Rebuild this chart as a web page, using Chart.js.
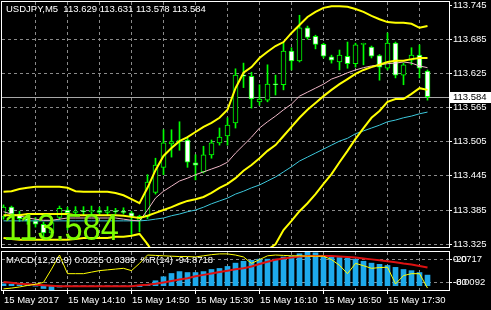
<!DOCTYPE html>
<html>
<head>
<meta charset="utf-8">
<script src="https://cdn.jsdelivr.net/npm/chart.js@4/dist/chart.umd.min.js"></script>
<style>
html, body { margin: 0; padding: 0; background: #000; }
#wrap { position: relative; width: 491px; height: 310px; background: #000; overflow: hidden; }
#main { position: absolute; left: 0; top: 0; }
#sub { position: absolute; left: 0; top: 250px; }
</style>
</head>
<body>
<div id="wrap">
  <canvas id="main" width="491" height="250" style="width:491px;height:250px"></canvas>
  <canvas id="sub" width="491" height="60" style="width:491px;height:60px"></canvas>
</div>
<script>
const symbol = 'USDJPY,M5';
const timeLabels = ['15 May 2017', '15 May 14:10', '15 May 14:50', '15 May 15:30', '15 May 16:10', '15 May 16:50', '15 May 17:30'];
const priceTicks = [113.325, 113.385, 113.445, 113.505, 113.565, 113.625, 113.685, 113.745];
const wprLevels = [-20, -80];

// M5 candles, 13:30 .. 17:55
const opens = [113.373, 113.390, 113.378, 113.370, 113.366, 113.360, 113.345, 113.372, 113.385, 113.381,
  113.383, 113.382, 113.384, 113.381, 113.383, 113.382, 113.380, 113.367, 113.374, 113.416,
  113.460, 113.501, 113.505, 113.508, 113.468, 113.452, 113.482, 113.503, 113.515, 113.538,
  113.622, 113.620, 113.575, 113.578, 113.606, 113.605, 113.664, 113.647, 113.705, 113.690,
  113.676, 113.654, 113.645, 113.655, 113.642, 113.676, 113.671, 113.656, 113.634, 113.678,
  113.622, 113.648, 113.657, 113.629];
const highs = [113.394, 113.392, 113.383, 113.378, 113.372, 113.364, 113.368, 113.392, 113.390, 113.391,
  113.391, 113.392, 113.390, 113.391, 113.388, 113.389, 113.383, 113.376, 113.447, 113.476,
  113.526, 113.526, 113.540, 113.511, 113.482, 113.497, 113.508, 113.529, 113.547, 113.633,
  113.643, 113.627, 113.605, 113.640, 113.622, 113.680, 113.670, 113.727, 113.708, 113.692,
  113.678, 113.657, 113.666, 113.680, 113.678, 113.678, 113.673, 113.658, 113.696, 113.680,
  113.643, 113.670, 113.675, 113.631];
const lows = [113.369, 113.372, 113.365, 113.360, 113.355, 113.338, 113.338, 113.368, 113.350, 113.378,
  113.377, 113.378, 113.377, 113.376, 113.379, 113.378, 113.342, 113.347, 113.370, 113.413,
  113.447, 113.478, 113.490, 113.460, 113.438, 113.450, 113.476, 113.499, 113.499, 113.529,
  113.600, 113.564, 113.569, 113.575, 113.587, 113.596, 113.631, 113.645, 113.685, 113.668,
  113.652, 113.643, 113.631, 113.634, 113.636, 113.640, 113.652, 113.613, 113.631, 113.617,
  113.605, 113.640, 113.617, 113.578];
const closes = [113.390, 113.378, 113.370, 113.366, 113.360, 113.345, 113.363, 113.388, 113.380, 113.383,
  113.382, 113.384, 113.381, 113.383, 113.382, 113.381, 113.374, 113.374, 113.434, 113.464,
  113.503, 113.505, 113.508, 113.469, 113.464, 113.482, 113.503, 113.513, 113.534, 113.622,
  113.620, 113.580, 113.580, 113.606, 113.605, 113.664, 113.647, 113.705, 113.688, 113.676,
  113.655, 113.648, 113.657, 113.642, 113.675, 113.677, 113.655, 113.636, 113.678, 113.622,
  113.640, 113.657, 113.634, 113.584];

// bollinger bands + moving averages
const bbUpper = [113.417, 113.418, 113.422, 113.424, 113.426, 113.426, 113.426, 113.426, 113.424, 113.418,
  113.417, 113.417, 113.417, 113.417, 113.415, 113.411, 113.404, 113.397, 113.424, 113.455,
  113.480, 113.494, 113.506, 113.513, 113.522, 113.531, 113.538, 113.547, 113.561, 113.599,
  113.626, 113.636, 113.652, 113.663, 113.673, 113.680, 113.696, 113.710, 113.724, 113.733,
  113.740, 113.743, 113.743, 113.742, 113.738, 113.733, 113.726, 113.720, 113.715, 113.714,
  113.714, 113.712, 113.705, 113.708];
const bbMid = [113.376, 113.376, 113.376, 113.378, 113.378, 113.378, 113.378, 113.378, 113.378, 113.376,
  113.376, 113.376, 113.376, 113.376, 113.376, 113.375, 113.373, 113.371, 113.375, 113.380,
  113.385, 113.390, 113.396, 113.401, 113.404, 113.408, 113.415, 113.424, 113.431, 113.441,
  113.454, 113.464, 113.476, 113.489, 113.499, 113.515, 113.531, 113.547, 113.561, 113.573,
  113.585, 113.596, 113.606, 113.615, 113.624, 113.631, 113.636, 113.640, 113.645, 113.647,
  113.647, 113.650, 113.652, 113.652];
const bbLower = [113.336, 113.334, 113.333, 113.333, 113.333, 113.333, 113.333, 113.333, 113.333, 113.334,
  113.336, 113.336, 113.336, 113.336, 113.338, 113.338, 113.340, 113.343, 113.325, 113.304,
  113.290, 113.287, 113.285, 113.289, 113.287, 113.285, 113.292, 113.301, 113.301, 113.283,
  113.282, 113.292, 113.301, 113.315, 113.325, 113.350, 113.366, 113.383, 113.397, 113.413,
  113.431, 113.448, 113.469, 113.489, 113.510, 113.529, 113.547, 113.559, 113.575, 113.580,
  113.580, 113.589, 113.599, 113.596];
const maFast = [113.382, 113.378, 113.375, 113.371, 113.369, 113.367, 113.367, 113.369, 113.371, 113.371,
  113.371, 113.371, 113.371, 113.371, 113.371, 113.369, 113.367, 113.366, 113.385, 113.406,
  113.418, 113.427, 113.436, 113.441, 113.447, 113.452, 113.457, 113.462, 113.469, 113.485,
  113.499, 113.513, 113.529, 113.540, 113.550, 113.561, 113.571, 113.585, 113.592, 113.599,
  113.606, 113.615, 113.620, 113.626, 113.631, 113.635, 113.638, 113.640, 113.642, 113.643,
  113.645, 113.643, 113.638, 113.635];
const maSlow = [113.366, 113.366, 113.366, 113.366, 113.366, 113.366, 113.366, 113.366, 113.366, 113.366,
  113.366, 113.366, 113.366, 113.366, 113.366, 113.366, 113.366, 113.366, 113.367, 113.369,
  113.371, 113.375, 113.378, 113.382, 113.385, 113.390, 113.396, 113.401, 113.406, 113.413,
  113.418, 113.424, 113.429, 113.436, 113.443, 113.452, 113.461, 113.471, 113.478, 113.485,
  113.492, 113.499, 113.506, 113.511, 113.519, 113.524, 113.529, 113.534, 113.540, 113.543,
  113.547, 113.550, 113.554, 113.557];

// sub window: MACD(12,26,9) + %R(14)
const macdHist = [0.004, 0.003, 0.002, 0.001, -0.001, -0.006, -0.0092, -0.003, -0.002, -0.002,
  -0.002, -0.002, -0.001, -0.001, -0.001, -0.001, -0.002, -0.002, 0.003, 0.0105,
  0.019, 0.026, 0.030, 0.028, 0.028, 0.030, 0.0345, 0.0367, 0.041, 0.048,
  0.052, 0.054, 0.0565, 0.0565, 0.0565, 0.061, 0.063, 0.068, 0.0717, 0.070,
  0.063, 0.061, 0.060, 0.0586, 0.0565, 0.052, 0.048, 0.0455, 0.043, 0.039,
  0.0345, 0.032, 0.028, 0.0225];
const macdSignal = [0.008, 0.006, 0.004, 0.003, 0.002, 0.001, 0.000, -0.001, -0.001, -0.001,
  -0.001, -0.001, -0.001, -0.001, -0.001, -0.001, -0.001, 0.001, 0.002, 0.004,
  0.007, 0.010, 0.013, 0.016, 0.020, 0.023, 0.026, 0.029, 0.032, 0.035,
  0.037, 0.041, 0.046, 0.051, 0.055, 0.058, 0.060, 0.062, 0.063, 0.063,
  0.063, 0.063, 0.062, 0.061, 0.060, 0.058, 0.056, 0.054, 0.052, 0.050,
  0.047, 0.045, 0.042, 0.0389];
const wpr = [-97, -95, -92, -88, -85, -80, -45, -8, -57, -57,
  -57, -53, -49, -47, -45, -43, -49, -30, -8, -9,
  -10, -11, -12, -12, -13, -10, -7, -5, -5, -8,
  -13, -30, -20, -10, -8, -9, -10, -10, -11, -11,
  -11, -20, -35, -57, -30, -36, -43, -41, -40, -84,
  -62, -57, -57, -94.8718];

const last = closes.length - 1;
const bid = closes[last];
const macdMax = Math.max(...macdHist, ...macdSignal);
const macdMin = Math.min(...macdHist, ...macdSignal);

const GRID = '#8a8a8a';
const GREEN = '#00ff00';
const FONT = "9.5px 'Liberation Sans', Arial, sans-serif";
Chart.defaults.font.family = "'Liberation Sans', Arial, sans-serif";
Chart.defaults.font.size = 9.5;
Chart.defaults.color = '#fff';

// bar i sits at 3.5 + 8*i px
const xMin = -0.1875, xMax = 55.6875;
const pts = arr => arr.map((v, i) => ({x: i, y: v}));
const gridTicks = s => {
  s.ticks = [];
  for (let i = 0; i <= 52; i += 4) s.ticks.push({value: i});
};
const lineDs = (data, color, width) => ({
  type: 'line', data: pts(data), borderColor: color, borderWidth: width,
  pointRadius: 0, tension: 0, fill: false, order: 0, clip: 0
});

function drawFrame(chart) {
  const {ctx, chartArea: a} = chart;
  ctx.save();
  ctx.strokeStyle = '#fff';
  ctx.lineWidth = 1;
  ctx.strokeRect(a.left - 0.5, a.top - 0.5, a.right - a.left + 1, a.bottom - a.top + 1);
  ctx.restore();
}

const mainDecor = {
  id: 'mainDecor',
  beforeDatasetsDraw(chart) {
    const {ctx, chartArea: a, scales: {y}} = chart;
    const py = Math.round(y.getPixelForValue(bid)) + 0.5;
    ctx.save();
    ctx.strokeStyle = '#a8a8a8';
    ctx.lineWidth = 1;
    ctx.beginPath();
    ctx.moveTo(a.left, py);
    ctx.lineTo(a.right, py);
    ctx.stroke();
    ctx.restore();
  },
  afterDraw(chart) {
    const {ctx, chartArea: a, scales: {y}} = chart;
    drawFrame(chart);
    ctx.save();
    // big price label
    ctx.fillStyle = '#7cfc00';
    ctx.font = "37px 'Liberation Sans', Arial, sans-serif";
    ctx.textBaseline = 'alphabetic';
    ctx.translate(3.5, 240);
    ctx.scale(0.88, 1);
    ctx.fillText(bid.toFixed(3), 0, 0);
    ctx.setTransform(1, 0, 0, 1, 0, 0);
    // header
    ctx.font = FONT;
    ctx.fillStyle = '#fff';
    ctx.textBaseline = 'middle';
    ctx.fillText(symbol + '  ' + opens[last].toFixed(3) + ' ' + highs[last].toFixed(3) + ' ' +
      lows[last].toFixed(3) + ' ' + closes[last].toFixed(3), 6, 9);
    // bid box
    const py = Math.round(y.getPixelForValue(bid));
    ctx.fillStyle = '#fff';
    ctx.fillRect(a.right + 1, py - 5, 42, 11);
    ctx.fillStyle = '#000';
    ctx.fillText(bid.toFixed(3), a.right + 4, py + 0.5);
    ctx.restore();
  }
};

const subDecor = {
  id: 'subDecor',
  afterDraw(chart) {
    const {ctx, chartArea: a, scales: {x, w}} = chart;
    drawFrame(chart);
    ctx.save();
    ctx.font = FONT;
    ctx.fillStyle = '#fff';
    ctx.textBaseline = 'middle';
    ctx.textAlign = 'left';
    ctx.fillText('MACD(12,26,9) ' + macdHist[last].toFixed(4) + ' ' + macdSignal[last].toFixed(4) +
      '  %R(14) ' + wpr[last].toFixed(4), 6, 260 - 250);
    ctx.fillText(macdMax.toFixed(4), a.right + 4, w.getPixelForValue(wprLevels[0]));
    ctx.fillText(macdMin.toFixed(4), a.right + 4, w.getPixelForValue(wprLevels[1]));
    // time labels, left-aligned at their tick
    timeLabels.forEach((t, k) => {
      ctx.fillText(t, Math.round(x.getPixelForValue(k * 8)), a.bottom + 10);
    });
    ctx.restore();
  }
};

new Chart(document.getElementById('main'), {
  type: 'bar',
  data: {
    datasets: [
      lineDs(bbUpper, '#ffff00', 2),
      lineDs(bbMid, '#ffff00', 2),
      lineDs(bbLower, '#ffff00', 2),
      lineDs(maFast, '#f0b8c8', 1),
      lineDs(maSlow, '#3cc8dc', 1),
      {
        type: 'bar', order: 1, grouped: false,
        data: opens.map((o, i) => ({x: i, y: [o, closes[i]]})),
        backgroundColor: closes.map((c, i) => c >= opens[i] ? '#000' : '#fff'),
        borderColor: GREEN, borderWidth: 1, borderSkipped: false,
        barThickness: 5, minBarLength: 1
      },
      {
        type: 'bar', order: 2, grouped: false,
        data: highs.map((h, i) => ({x: i, y: [lows[i], h]})),
        backgroundColor: GREEN, borderWidth: 0, barThickness: 1
      }
    ]
  },
  options: {
    responsive: false,
    animation: false,
    events: [],
    layout: {padding: {top: 2, left: 2, right: 0, bottom: 3}},
    plugins: {legend: {display: false}, tooltip: {enabled: false}},
    scales: {
      x: {
        type: 'linear', min: xMin, max: xMax, offset: false,
        afterBuildTicks: gridTicks,
        afterFit: s => { s.height = 0; s.paddingLeft = 0; s.paddingRight = 0; },
        ticks: {display: false},
        grid: {offset: false, color: c => c.tick && c.tick.value === 0 ? 'transparent' : GRID, drawTicks: false},
        border: {display: false, dash: [3, 3]}
      },
      y: {
        position: 'right', min: 113.3201, max: 113.7503,
        afterBuildTicks: s => { s.ticks = priceTicks.map(v => ({value: v})); },
        afterFit: s => { s.width = 42; s.paddingTop = 0; s.paddingBottom = 0; },
        ticks: {color: '#fff', padding: 1, autoSkip: false, callback: v => v.toFixed(3)},
        grid: {
          color: c => c.tick && c.tick.value === priceTicks[priceTicks.length - 1] ? 'transparent' : GRID,
          tickLength: 3, tickColor: '#fff'
        },
        border: {display: false, dash: [3, 3]}
      }
    }
  },
  plugins: [mainDecor]
});

new Chart(document.getElementById('sub'), {
  type: 'bar',
  data: {
    datasets: [
      {type: 'line', yAxisID: 'w', data: pts(wpr), borderColor: '#ffff00', borderWidth: 1,
        pointRadius: 0, tension: 0, order: 0, clip: 0},
      {type: 'line', yAxisID: 'm', data: pts(macdSignal), borderColor: '#dd1111', borderWidth: 2,
        pointRadius: 0, tension: 0, order: 1, clip: 0},
      {type: 'bar', yAxisID: 'm', data: pts(macdHist), backgroundColor: '#1eaaeb',
        barThickness: 5, order: 2}
    ]
  },
  options: {
    responsive: false,
    animation: false,
    events: [],
    layout: {padding: {top: 2, left: 2, right: 0, bottom: 0}},
    plugins: {legend: {display: false}, tooltip: {enabled: false}},
    scales: {
      x: {
        type: 'linear', min: xMin, max: xMax, offset: false,
        afterBuildTicks: gridTicks,
        afterFit: s => { s.height = 20; s.paddingLeft = 0; s.paddingRight = 0; },
        ticks: {display: false},
        grid: {
          offset: false,
          color: c => c.tick && c.tick.value === 0 ? 'transparent' : GRID,
          tickLength: 4,
          tickColor: c => c.tick && c.tick.value % 8 === 0 ? '#fff' : 'transparent'
        },
        border: {display: false, dash: [3, 3]}
      },
      w: {
        position: 'right', min: -100, max: 0,
        afterBuildTicks: s => { s.ticks = wprLevels.map(v => ({value: v})); },
        afterFit: s => { s.width = 42; s.paddingTop = 0; s.paddingBottom = 0; },
        ticks: {color: '#fff', padding: 1, autoSkip: false, callback: v => String(v)},
        grid: {color: GRID, tickLength: 3, tickColor: '#fff'},
        border: {display: false, dash: [3, 3]}
      },
      m: {display: false, min: macdMin, max: macdMax}
    }
  },
  plugins: [subDecor]
});
</script>
</body>
</html>
